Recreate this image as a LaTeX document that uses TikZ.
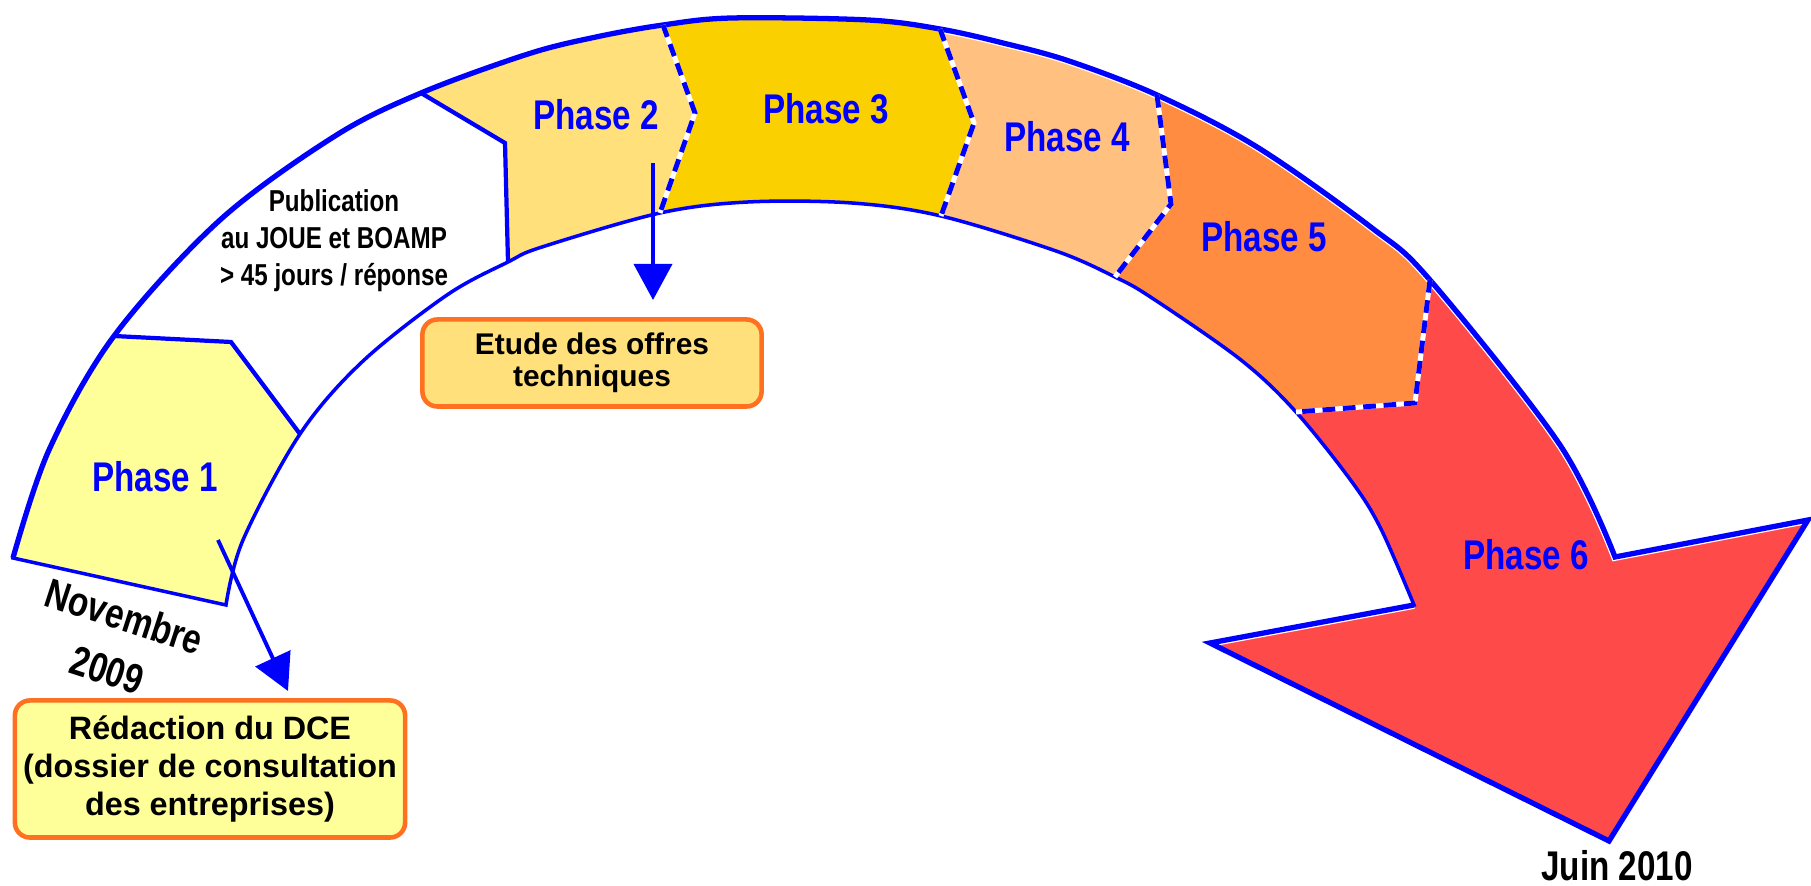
\documentclass[tikz,border=0pt]{standalone}
\usepackage{fontspec}
\setmainfont{Liberation Sans}
\newfontfamily\narrowsans{Liberation Sans}[FakeStretch=0.8]
\usetikzlibrary{calc, arrows.meta}

\definecolor{phaseblue}{RGB}{0,0,255}
\definecolor{ph1}{RGB}{255,255,153}
\definecolor{ph2}{RGB}{255,224,122}
\definecolor{ph3}{RGB}{250,208,0}
\definecolor{ph4}{RGB}{255,192,128}
\definecolor{ph5}{RGB}{255,140,64}
\definecolor{ph6}{RGB}{255,74,74}
\definecolor{boxorange}{RGB}{255,112,32}

% the two edges of the curved band
\newcommand{\outercurve}{plot[smooth, tension=0.55] coordinates {(13,558) (49,450) (114,336) (220,220) (335,136) (421,93) (528,54) (596,37) (663,25) (732,18) (868,20) (940,29) (1003,43) (1069,61) (1157,95) (1257,147) (1372,228) (1430,280) (1560,445) (1615,557)}}
\newcommand{\innercurve}{-- plot[smooth, tension=0.55] coordinates {(1414,605) (1381,529) (1352,482) (1296,412) (1241,360) (1152,298) (1115,277) (1056,251) (941,216) (852,203) (748,202) (660,213) (542,247) (508,262) (447,295) (362,362) (300,434) (243,540) (226,605)}}
\newcommand{\bandfill}[1]{\fill[#1] \outercurve -- (barbR) -- (tip) -- (barbL) \innercurve -- cycle;}

\begin{document}
\begin{tikzpicture}[x=0.01cm, y=-0.01cm,
    bandline/.style={draw=phaseblue, line width=1pt},
    solidcut/.style={draw=phaseblue, line width=1.2pt},
    whitecut/.style={draw=white, line width=1.4pt},
    dashcut/.style={draw=phaseblue, line width=1.4pt, dash pattern=on 3.6pt off 2.2pt},
    phaselabel/.style={text=phaseblue, inner sep=0pt, font=\narrowsans\bfseries\fontsize{11.8}{14}\selectfont},
    datelabel/.style={inner sep=0pt, align=center, font=\narrowsans\bfseries\fontsize{11.8}{16}\selectfont},
    note/.style={inner sep=0pt, align=center, font=\narrowsans\bfseries\fontsize{8.6}{10.5}\selectfont},
    taskbox/.style={draw=boxorange, line width=1.3pt, rounded corners=0.15cm, align=center, inner sep=0pt},
    flow/.style={draw=phaseblue, line width=1.1pt, -{Triangle[length=0.36cm, width=0.38cm]}}]

\useasboundingbox (0,0) rectangle (1811,886);

% arrow head of the band
\coordinate (shoulderO) at (1615,557);
\coordinate (barbR) at (1808,520);
\coordinate (tip) at (1609,841);
\coordinate (barbL) at (1210,643);
\coordinate (shoulderI) at (1414,605);

% cuts between the phases (outer, middle, inner point)
\coordinate (b1o) at (114,336);  \coordinate (b1m) at (231,342);  \coordinate (b1i) at (300,434);
\coordinate (b2o) at (421,93);   \coordinate (b2m) at (505,143);  \coordinate (b2i) at (508,262);
\coordinate (b23o) at (663,25);  \coordinate (b23m) at (695,113); \coordinate (b23i) at (660,213);
\coordinate (b34o) at (940,29);  \coordinate (b34m) at (974,123); \coordinate (b34i) at (941,216);
\coordinate (b45o) at (1157,95); \coordinate (b45m) at (1171,204); \coordinate (b45i) at (1115,277);
\coordinate (b56o) at (1430,280); \coordinate (b56m) at (1415,403); \coordinate (b56i) at (1296,412);
\foreach \n in {1,2,23,34,45,56}{
  \coordinate (b\n x) at ($(b\n o)!-0.6!(b\n m)$);
  \coordinate (b\n y) at ($(b\n i)!-0.6!(b\n m)$);
}

% colour of each phase
\begin{scope}
  \clip (0,300) -- (b1x) -- (b1o) -- (b1m) -- (b1i) -- (b1y) -- (340,900) -- (0,900) -- cycle;
  \bandfill{ph1}
\end{scope}
\foreach \l/\r/\c in {2/23/ph2, 23/34/ph3, 34/45/ph4, 45/56/ph5}{
  \begin{scope}
    \clip (b\l x) -- (b\l o) -- (b\l m) -- (b\l i) -- (b\l y) -- (b\r y) -- (b\r i) -- (b\r m) -- (b\r o) -- (b\r x) -- cycle;
    \bandfill{\c}
  \end{scope}
}
\begin{scope}
  \clip (b56x) -- (b56o) -- (b56m) -- (b56i) -- (b56y) -- (1000,900) -- (1811,900) -- (1811,0) -- cycle;
  \bandfill{ph6}
\end{scope}

% thin white rim inside the outer edge, from phase 4 on
\begin{scope}
  \clip (b34x) -- (b34o) -- (b34m) -- (b34i) -- (b34y) -- (1000,900) -- (1811,900) -- (1811,0) -- cycle;
  \draw[white, line width=2.2pt] \outercurve -- (barbR);
  \draw[white, line width=2.2pt] (barbL) -- (shoulderI);
\end{scope}

% outline
\draw[bandline] \outercurve -- (barbR) -- (tip) -- (barbL) \innercurve -- cycle;
\draw[bandline, line width=1.5pt] \outercurve -- (barbR) -- (tip) -- (barbL) -- (shoulderI);

\draw[solidcut] (b1o) -- (b1m) -- (b1i);
\draw[solidcut] (b2o) -- (b2m) -- (b2i);
\foreach \n in {23,34,45,56}{
  \draw[whitecut] (b\n o) -- (b\n m) -- (b\n i);
  \draw[dashcut] (b\n o) -- (b\n m) -- (b\n i);
}

% labels
\node[phaselabel] (ph1) at (155,477) {Phase 1};
\node[phaselabel] (ph2) at (596,115) {Phase 2};
\node[phaselabel] (ph3) at (826,109) {Phase 3};
\node[phaselabel] (ph4) at (1067,137) {Phase 4};
\node[phaselabel] (ph5) at (1264,237) {Phase 5};
\node[phaselabel] (ph6) at (1526,555) {Phase 6};

\node[note] (publi) at (334,241) {Publication\\au JOUE et BOAMP\\> 45 jours / réponse};
\node[datelabel, rotate=-18] (nov) at (116,643) {Novembre\\2009};
\node[datelabel] (juin) at (1617,866) {Juin 2010};

% tasks
\node[taskbox, fill=ph1, minimum width=3.9cm, minimum height=1.37cm,
      font=\bfseries\fontsize{9.2}{10.8}\selectfont] (redac) at (210,769)
      {Rédaction du DCE\\(dossier de consultation\\des entreprises)};
\node[taskbox, fill=ph2, minimum width=3.39cm, minimum height=0.87cm,
      font=\bfseries\fontsize{8.5}{9.2}\selectfont] (etude) at (592,363)
      {Etude des offres\\techniques};

\coordinate (from1) at (218,540);
\coordinate (to1) at (288,691);
\coordinate (from2) at (653,163);
\coordinate (to2) at (653,300);
\draw[flow] (from1) -- (to1);
\draw[flow] (from2) -- (to2);
\end{tikzpicture}
\end{document}
